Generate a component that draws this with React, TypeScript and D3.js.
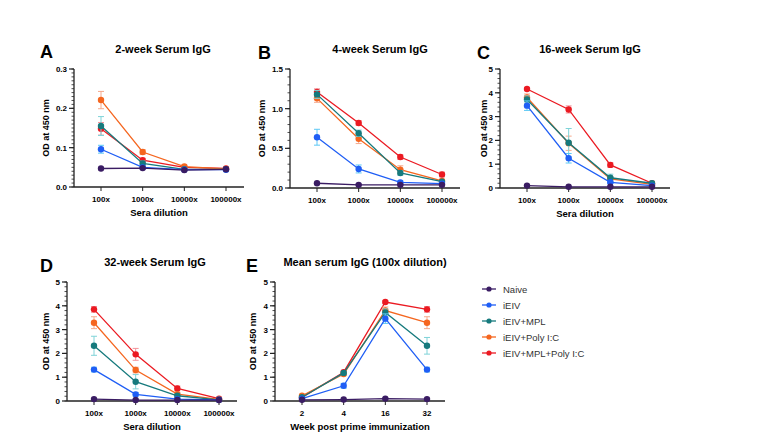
import React from "react";
import * as d3 from "d3";

const groups = ["Naive", "iEIV", "iEIV+MPL", "iEIV+Poly I:C", "iEIV+MPL+Poly I:C"];
const groupColors = ["#3a1c63", "#1f5ef5", "#167a7d", "#f5661f", "#eb1a22"];
const errColors = ["#9a8cb8", "#5cc8f5", "#7fd3d8", "#f6a98c", "#f3939a"];

const dilutions = ["100x", "1000x", "10000x", "100000x"];
const weeks = ["2", "4", "16", "32"];

// values per group (rows) across dilutions (cols)
const week2 = [
  [0.047, 0.048, 0.043, 0.045],
  [0.096, 0.05, 0.044, 0.044],
  [0.155, 0.06, 0.045, 0.045],
  [0.221, 0.089, 0.052, 0.046],
  [0.148, 0.068, 0.05, 0.047],
];
const week2Err = [
  [0.002, 0.002, 0.002, 0.002],
  [0.01, 0.004, 0.002, 0.002],
  [0.024, 0.006, 0.003, 0.002],
  [0.022, 0.006, 0.004, 0.003],
  [0.016, 0.005, 0.003, 0.002],
];
const week4 = [
  [0.06, 0.04, 0.04, 0.04],
  [0.64, 0.24, 0.07, 0.055],
  [1.18, 0.69, 0.19, 0.08],
  [1.13, 0.62, 0.23, 0.09],
  [1.21, 0.82, 0.39, 0.17],
];
const week4Err = [
  [0.01, 0.01, 0.01, 0.01],
  [0.1, 0.05, 0.02, 0.01],
  [0.05, 0.04, 0.03, 0.01],
  [0.05, 0.06, 0.05, 0.02],
  [0.04, 0.03, 0.03, 0.03],
];
const week16 = [
  [0.1, 0.05, 0.05, 0.05],
  [3.46, 1.25, 0.24, 0.1],
  [3.72, 1.9, 0.43, 0.2],
  [3.8, 1.88, 0.38, 0.15],
  [4.16, 3.3, 0.97, 0.2],
];
const week16Err = [
  [0.03, 0.02, 0.02, 0.02],
  [0.2, 0.2, 0.05, 0.03],
  [0.15, 0.6, 0.15, 0.05],
  [0.15, 0.3, 0.1, 0.04],
  [0.05, 0.15, 0.1, 0.04],
];
const week32 = [
  [0.08, 0.04, 0.04, 0.04],
  [1.32, 0.28, 0.08, 0.05],
  [2.32, 0.81, 0.22, 0.05],
  [3.29, 1.3, 0.29, 0.07],
  [3.85, 1.96, 0.53, 0.1],
];
const week32Err = [
  [0.02, 0.02, 0.01, 0.01],
  [0.1, 0.08, 0.03, 0.02],
  [0.4, 0.3, 0.08, 0.02],
  [0.25, 0.12, 0.06, 0.02],
  [0.12, 0.25, 0.1, 0.03],
];
const mean100x = [
  [0.05, 0.06, 0.1, 0.08],
  [0.1, 0.64, 3.46, 1.32],
  [0.155, 1.18, 3.72, 2.32],
  [0.22, 1.13, 3.8, 3.29],
  [0.15, 1.21, 4.16, 3.85],
];
const mean100xErr = [
  [0.01, 0.01, 0.03, 0.02],
  [0.01, 0.1, 0.2, 0.1],
  [0.02, 0.05, 0.15, 0.35],
  [0.02, 0.05, 0.15, 0.25],
  [0.02, 0.04, 0.05, 0.12],
];

const yTicks03 = [0, 0.1, 0.2, 0.3];
const yTicks15 = [0, 0.5, 1.0, 1.5];
const yTicks5 = [0, 1, 2, 3, 4, 5];

type Panel = {
  letter: string;
  title: string;
  cats: string[];
  values: number[][];
  errs: number[][];
  yMax: number;
  ticks: number[];
  fmt: string;
  minor: number;
  xLabel?: string;
  axisX: number;
  top: number;
  bottom: number;
  letterX: number;
  titleX: number;
  yLabelX: number;
};

const panels: Panel[] = [
  { letter: "A", title: "2-week Serum IgG", cats: dilutions, values: week2, errs: week2Err, yMax: 0.3, ticks: yTicks03, fmt: ".1f", minor: 0.01, xLabel: "Sera dilution", axisX: 74, top: 69, bottom: 187, letterX: 40, titleX: 163, yLabelX: 49 },
  { letter: "B", title: "4-week Serum IgG", cats: dilutions, values: week4, errs: week4Err, yMax: 1.5, ticks: yTicks15, fmt: ".1f", minor: 0.1, axisX: 290, top: 69, bottom: 188, letterX: 258, titleX: 380, yLabelX: 265 },
  { letter: "C", title: "16-week Serum IgG", cats: dilutions, values: week16, errs: week16Err, yMax: 5, ticks: yTicks5, fmt: "d", minor: 0.2, xLabel: "Sera dilution", axisX: 500, top: 69, bottom: 188, letterX: 477, titleX: 590, yLabelX: 487 },
  { letter: "D", title: "32-week Serum IgG", cats: dilutions, values: week32, errs: week32Err, yMax: 5, ticks: yTicks5, fmt: "d", minor: 0.2, xLabel: "Sera dilution", axisX: 67, top: 282, bottom: 401, letterX: 40, titleX: 155, yLabelX: 49 },
  { letter: "E", title: "Mean serum IgG (100x dilution)", cats: weeks, values: mean100x, errs: mean100xErr, yMax: 5, ticks: yTicks5, fmt: "d", minor: 0.2, xLabel: "Week post prime immunization", axisX: 275, top: 282, bottom: 401, letterX: 246, titleX: 365, yLabelX: 256 },
];

const FONT = "'Liberation Sans', Arial, sans-serif";
const drawOrder = [4, 3, 2, 1, 0];

function PanelView({ p }: { p: Panel }) {
  const x = d3.scalePoint<string>().domain(p.cats).range([p.axisX + 27, p.axisX + 152]);
  const y = d3.scaleLinear().domain([0, p.yMax]).range([p.bottom, p.top]);
  const axisEnd = p.axisX + 170;
  const fmt = d3.format(p.fmt);
  const minorTicks = d3.range(0, p.yMax + p.minor / 2, p.minor);
  const line = d3
    .line<number>()
    .x((_, i) => x(p.cats[i]) as number)
    .y((d) => y(d));
  return (
    <g>
      <text x={p.letterX} y={(p.top + p.bottom) / 2 - 70} fontFamily={FONT} fontWeight="bold" fontSize={18} fill="#000">
        {p.letter}
      </text>
      <text x={p.titleX} y={p.top - 16} textAnchor="middle" fontFamily={FONT} fontWeight="bold" fontSize={11} fill="#000">
        {p.title}
      </text>
      {/* y axis */}
      <line x1={p.axisX} x2={p.axisX} y1={p.top} y2={p.bottom} stroke="#222" strokeWidth={1.3} />
      {minorTicks.map((t, i) => (
        <line key={"m" + i} x1={p.axisX - 2.5} x2={p.axisX} y1={y(t)} y2={y(t)} stroke="#222" strokeWidth={0.8} />
      ))}
      {p.ticks.map((t) => (
        <g key={"t" + t}>
          <line x1={p.axisX - 5} x2={p.axisX} y1={y(t)} y2={y(t)} stroke="#222" strokeWidth={1.2} />
          <text x={p.axisX - 7} y={y(t) + 3} textAnchor="end" fontFamily={FONT} fontWeight="bold" fontSize={8} fill="#000">
            {fmt(t)}
          </text>
        </g>
      ))}
      <text
        transform={`translate(${p.yLabelX},${(p.top + p.bottom) / 2}) rotate(-90)`}
        textAnchor="middle"
        fontFamily={FONT}
        fontWeight="bold"
        fontSize={9}
        fill="#000"
      >
        OD at 450 nm
      </text>
      {/* x axis */}
      <line x1={p.axisX} x2={axisEnd} y1={p.bottom} y2={p.bottom} stroke="#222" strokeWidth={1.3} />
      {p.cats.map((c) => (
        <g key={"x" + c}>
          <line x1={x(c)} x2={x(c)} y1={p.bottom} y2={p.bottom + 4} stroke="#222" strokeWidth={1} />
          <text x={x(c)} y={p.bottom + 15} textAnchor="middle" fontFamily={FONT} fontWeight="bold" fontSize={8} fill="#000">
            {c}
          </text>
        </g>
      ))}
      {p.xLabel && (
        <text x={(p.axisX + axisEnd) / 2} y={p.bottom + 29} textAnchor="middle" fontFamily={FONT} fontWeight="bold" fontSize={9.5} fill="#000">
          {p.xLabel}
        </text>
      )}
      {/* series */}
      {drawOrder.map((gi) => (
        <g key={"s" + gi}>
          {p.values[gi].map((v, i) => {
            const e = p.errs[gi][i];
            const cx = x(p.cats[i]) as number;
            return (
              <g key={"e" + i} stroke={errColors[gi]} strokeWidth={1}>
                <line x1={cx} x2={cx} y1={y(v + e)} y2={y(Math.max(0, v - e))} />
                <line x1={cx - 3} x2={cx + 3} y1={y(v + e)} y2={y(v + e)} />
                <line x1={cx - 3} x2={cx + 3} y1={y(Math.max(0, v - e))} y2={y(Math.max(0, v - e))} />
              </g>
            );
          })}
          <path d={line(p.values[gi]) || ""} fill="none" stroke={groupColors[gi]} strokeWidth={1.3} />
          {p.values[gi].map((v, i) => (
            <circle key={"c" + i} cx={x(p.cats[i])} cy={y(v)} r={3.2} fill={groupColors[gi]} />
          ))}
        </g>
      ))}
    </g>
  );
}

function Legend() {
  const rowY = [289, 305, 321, 337, 353];
  return (
    <g>
      {groups.map((g, i) => (
        <g key={g}>
          <line x1={482} x2={496} y1={rowY[i]} y2={rowY[i]} stroke={groupColors[i]} strokeWidth={1.3} />
          <circle cx={489} cy={rowY[i]} r={2.6} fill={groupColors[i]} />
          <text x={503} y={rowY[i] + 3.5} fontFamily={FONT} fontSize={9.5} fill="#333">
            {g}
          </text>
        </g>
      ))}
    </g>
  );
}

export default function App() {
  return (
    <svg width={757} height={440} style={{ position: "absolute", left: 0, top: 0, background: "#fff" }}>
      <rect width={757} height={440} fill="#fff" />
      {panels.map((p) => (
        <PanelView key={p.letter} p={p} />
      ))}
      <Legend />
    </svg>
  );
}
